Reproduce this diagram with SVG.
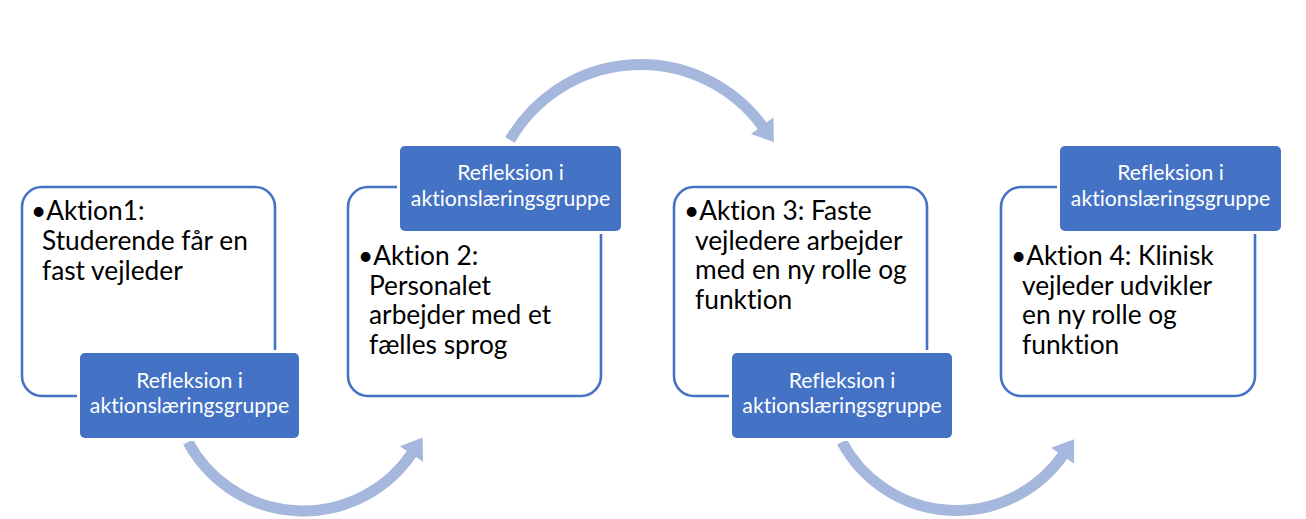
<svg xmlns="http://www.w3.org/2000/svg" width="1306" height="519" viewBox="0 0 1306 519">
<style>
.outline{fill:#fff;stroke:#4472c4;stroke-width:2.6}
.tag{fill:#4472c4;stroke:#fff;stroke-width:6;paint-order:stroke}
.body{font-family:Lato,"Open Sans","Liberation Sans",sans-serif;font-size:26.3px;fill:#000;font-variant-ligatures:none}
.tagtext{font-family:Lato,"Open Sans","Liberation Sans",sans-serif;font-size:21.2px;fill:#fff;text-anchor:middle;font-variant-ligatures:none}
.arc{fill:none;stroke:#a5b7dd;stroke-width:11;marker-end:url(#head)}
</style>
<defs>
<marker id="head" markerUnits="userSpaceOnUse" markerWidth="40" markerHeight="40" refX="1" refY="14" orient="auto" overflow="visible">
<path d="M0,0 L20,14 L0,28 Z" fill="#a5b7dd"/>
</marker>
</defs>
<rect width="1306" height="519" fill="#fff"/>
<g id="connectors">
<path class="arc" d="M 510 140 A 151 151 0 0 1 762.7 126.6"/>
<path class="arc" d="M 188 442 A 131 131 0 0 0 412 453.2"/>
<path class="arc" d="M 842 442 A 130 130 0 0 0 1063.2 454.9"/>
</g>
<g id="node1">
<rect class="outline" x="22" y="187" width="253" height="209" rx="20"/>
<text class="body"><tspan x="31" y="220">•Aktion1:</tspan><tspan x="42" y="250">Studerende får en</tspan><tspan x="42" y="280">fast vejleder</tspan></text>
<rect class="tag" x="80" y="353" width="219" height="85" rx="5"/>
<text class="tagtext"><tspan x="189.5" y="388">Refleksion i</tspan><tspan x="189.5" y="413">aktionslæringsgruppe</tspan></text>
</g>
<g id="node2">
<rect class="outline" x="348" y="187" width="253" height="209" rx="20"/>
<rect class="tag" x="400" y="146" width="221" height="85" rx="5"/>
<text class="tagtext"><tspan x="510.5" y="180">Refleksion i</tspan><tspan x="510.5" y="206">aktionslæringsgruppe</tspan></text>
<text class="body"><tspan x="358" y="265">•Aktion 2:</tspan><tspan x="369" y="294.5">Personalet</tspan><tspan x="369" y="324">arbejder med et</tspan><tspan x="369" y="353.5">fælles sprog</tspan></text>
</g>
<g id="node3">
<rect class="outline" x="674" y="187" width="253" height="209" rx="20"/>
<text class="body"><tspan x="684" y="220">•Aktion 3: Faste</tspan><tspan x="695" y="249.5">vejledere arbejder</tspan><tspan x="695" y="279">med en ny rolle og</tspan><tspan x="695" y="308.5">funktion</tspan></text>
<rect class="tag" x="732" y="353" width="220" height="85" rx="5"/>
<text class="tagtext"><tspan x="842" y="388">Refleksion i</tspan><tspan x="842" y="413">aktionslæringsgruppe</tspan></text>
</g>
<g id="node4">
<rect class="outline" x="1001" y="187" width="254" height="209" rx="20"/>
<rect class="tag" x="1060" y="146" width="221" height="85" rx="5"/>
<text class="tagtext"><tspan x="1170.5" y="180">Refleksion i</tspan><tspan x="1170.5" y="206">aktionslæringsgruppe</tspan></text>
<text class="body"><tspan x="1011" y="265">•Aktion 4: Klinisk</tspan><tspan x="1022" y="294.5">vejleder udvikler</tspan><tspan x="1022" y="324">en ny rolle og</tspan><tspan x="1022" y="353.5">funktion</tspan></text>
</g>
</svg>
